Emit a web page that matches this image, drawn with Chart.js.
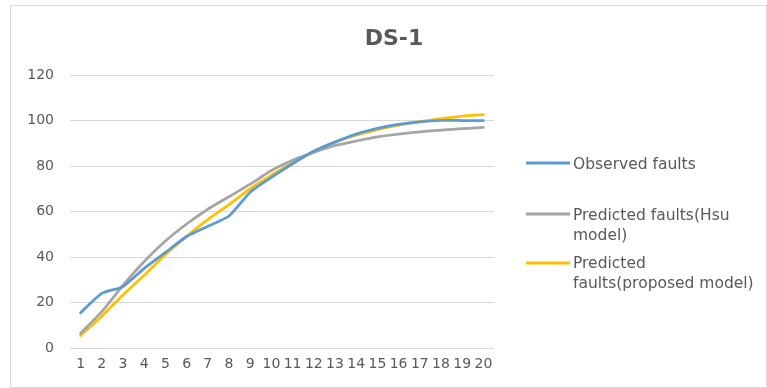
<!DOCTYPE html>
<html>
<head>
<meta charset="utf-8">
<script src="https://cdn.jsdelivr.net/npm/chart.js@4/dist/chart.umd.min.js"></script>
<style>
  html, body { margin: 0; padding: 0; background: #ffffff; }
  #wrap { width: 767px; height: 388px; position: relative; }
</style>
</head>
<body>
<div id="wrap"><canvas id="c" width="767" height="388"></canvas></div>
<script>
// Test periods (x axis categories)
const periods = ["1","2","3","4","5","6","7","8","9","10","11","12","13","14","15","16","17","18","19","20"];

// Cumulative faults per period
const observedFaults = [15.5, 24, 27, 35, 42, 49, 53.5, 58, 68.5, 75, 81, 86.5, 90.5, 94, 96.5, 98.3, 99.4, 100, 100, 100];
const hsuPredicted   = [6.5, 16, 27.5, 38, 47, 54.5, 61, 66.5, 72, 78, 82.5, 86, 89, 91, 92.8, 94, 95, 95.8, 96.4, 97];
const proposedPredicted = [5.5, 14, 23.3, 32, 41, 49, 56.4, 63, 70, 76, 81.5, 86.5, 90.5, 93.5, 96, 98, 99.5, 100.8, 101.9, 102.6];

const seriesNames = ["Observed faults", "Predicted faults(Hsu model)", "Predicted faults(proposed model)"];
// Wrapped legend text, one array of lines per series
const legendLines = [["Observed faults"], ["Predicted faults(Hsu", "model)"], ["Predicted", "faults(proposed model)"]];
const seriesColors = ["#5b9bd5", "#a5a5a5", "#ffc000"];

const yTicks = { min: 0, max: 120, step: 20 };
const chartTitle = "DS-1";

const FONT = "'DejaVu Sans', sans-serif";
const TEXT_COLOR = "#595959";

// Frame, title and side legend
const decorations = {
  id: "decorations",
  beforeDraw(chart) {
    const ctx = chart.ctx;
    ctx.save();
    ctx.fillStyle = "#ffffff";
    ctx.fillRect(0, 0, chart.width, chart.height);
    ctx.strokeStyle = "#d9d9d9";
    ctx.lineWidth = 1;
    ctx.strokeRect(10.5, 5.5, chart.width - 11, chart.height - 6);
    ctx.restore();
  },
  afterDraw(chart) {
    const ctx = chart.ctx;
    ctx.save();
    ctx.fillStyle = TEXT_COLOR;
    ctx.font = "bold 22px " + FONT;
    ctx.textAlign = "center";
    ctx.textBaseline = "alphabetic";
    ctx.fillText(chartTitle, 394, 45);

    ctx.font = "15.5px " + FONT;
    ctx.textAlign = "left";
    const baseY = [169, 220, 268];
    const lineY = [163, 214, 263];
    const lineH = 19.5;
    chart.data.datasets.forEach((ds, i) => {
      ctx.strokeStyle = ds.borderColor;
      ctx.lineWidth = 3;
      ctx.beginPath();
      ctx.moveTo(526, lineY[i]);
      ctx.lineTo(570, lineY[i]);
      ctx.stroke();
      legendLines[i].forEach((t, k) => {
        ctx.fillText(t, 573, baseY[i] + k * lineH);
      });
    });
    ctx.restore();
  }
};

new Chart(document.getElementById("c"), {
  type: "line",
  data: {
    labels: periods,
    datasets: [
      { label: seriesNames[0], data: observedFaults, borderColor: seriesColors[0] },
      { label: seriesNames[1], data: hsuPredicted, borderColor: seriesColors[1] },
      { label: seriesNames[2], data: proposedPredicted, borderColor: seriesColors[2] }
    ].map(d => Object.assign(d, {
      borderWidth: 2.75, pointRadius: 0, tension: 0.2, fill: false,
      borderCapStyle: "round", borderJoinStyle: "round"
    }))
  },
  options: {
    responsive: false,
    animation: false,
    layout: { padding: { left: 10, right: 273, top: 75, bottom: 12 } },
    plugins: { legend: { display: false }, title: { display: false }, tooltip: { enabled: false } },
    scales: {
      x: {
        offset: true,
        grid: { display: false },
        border: { display: false },
        ticks: { color: TEXT_COLOR, font: { family: FONT, size: 14 }, padding: 0, maxRotation: 0, autoSkip: false },
        afterFit(s) { s.height = 28; }
      },
      y: {
        min: yTicks.min, max: yTicks.max,
        grid: { color: "#d9d9d9", lineWidth: 1, drawTicks: false },
        border: { display: false },
        ticks: { stepSize: yTicks.step, color: TEXT_COLOR, font: { family: FONT, size: 14 }, padding: 16 },
        afterFit(s) { s.width = 60; }
      }
    }
  },
  plugins: [decorations]
});
</script>
</body>
</html>
